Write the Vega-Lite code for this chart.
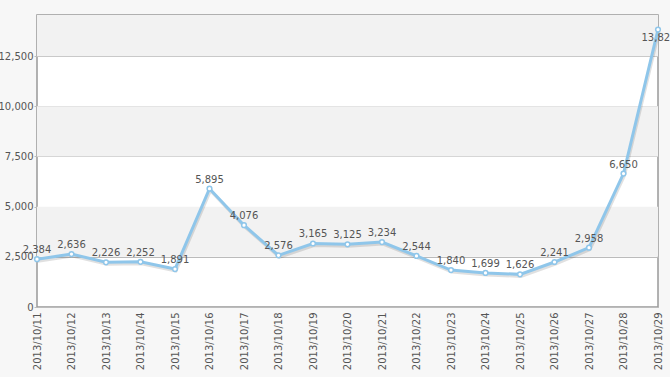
{
  "$schema": "https://vega.github.io/schema/vega-lite/v6.json",
  "width": 621,
  "height": 292,
  "autosize": {"type": "none"},
  "padding": {"left": 37, "top": 15, "right": 12, "bottom": 70},
  "background": "#f7f7f7",
  "config": {
    "view": {"stroke": "#999999", "strokeWidth": 1.5, "fill": "#ffffff"},
    "font": "DejaVu Sans"
  },
  "datasets": {
    "series": [
      {"date": "2013/10/11", "value": 2384, "label": "2,384"},
      {"date": "2013/10/12", "value": 2636, "label": "2,636"},
      {"date": "2013/10/13", "value": 2226, "label": "2,226"},
      {"date": "2013/10/14", "value": 2252, "label": "2,252"},
      {"date": "2013/10/15", "value": 1891, "label": "1,891"},
      {"date": "2013/10/16", "value": 5895, "label": "5,895"},
      {"date": "2013/10/17", "value": 4076, "label": "4,076"},
      {"date": "2013/10/18", "value": 2576, "label": "2,576"},
      {"date": "2013/10/19", "value": 3165, "label": "3,165"},
      {"date": "2013/10/20", "value": 3125, "label": "3,125"},
      {"date": "2013/10/21", "value": 3234, "label": "3,234"},
      {"date": "2013/10/22", "value": 2544, "label": "2,544"},
      {"date": "2013/10/23", "value": 1840, "label": "1,840"},
      {"date": "2013/10/24", "value": 1699, "label": "1,699"},
      {"date": "2013/10/25", "value": 1626, "label": "1,626"},
      {"date": "2013/10/26", "value": 2241, "label": "2,241"},
      {"date": "2013/10/27", "value": 2958, "label": "2,958"},
      {"date": "2013/10/28", "value": 6650, "label": "6,650"},
      {"date": "2013/10/29", "value": 13825, "label": "13,825"}
    ],
    "bands": [
      {"from": 2500, "to": 5000},
      {"from": 7500, "to": 10000},
      {"from": 12500, "to": 14550}
    ]
  },
  "layer": [
    {
      "data": {"name": "bands"},
      "mark": {"type": "rect", "color": "#f2f2f2"},
      "encoding": {
        "x": {"value": 0},
        "x2": {"value": "width"},
        "y": {
          "field": "from", "type": "quantitative",
          "scale": {"domain": [0, 14550], "nice": false},
          "axis": {"title": null, "values": [0, 2500, 5000, 7500, 10000, 12500], "format": ",d", "labelFontSize": 10, "labelColor": "#555555", "domain": false, "tickSize": 3, "tickColor": "#bbbbbb", "grid": true, "gridColor": "#bbbbbb", "gridOpacity": 1, "labelPadding": 1}
        },
        "y2": {"field": "to"}
      }
    },
    {
      "data": {"name": "series"},
      "layer": [
        {
          "mark": {"type": "line", "color": "#000000", "opacity": 0.12, "strokeWidth": 3, "xOffset": 1, "yOffset": 2},
          "encoding": {}
        },
        {
          "mark": {"type": "line", "color": "#8fc6ea", "strokeWidth": 3},
          "encoding": {}
        },
        {
          "mark": {"type": "point", "filled": true, "fill": "#ffffff", "stroke": "#8fc6ea", "strokeWidth": 1.5, "size": 22, "opacity": 1},
          "encoding": {}
        },
        {
          "transform": [{"filter": "datum.value < 13000"}],
          "mark": {"type": "text", "dy": -9, "fontSize": 10, "color": "#555555", "font": "DejaVu Sans"},
          "encoding": {"text": {"field": "label"}}
        },
        {
          "transform": [{"filter": "datum.value >= 13000"}],
          "mark": {"type": "text", "dy": 8, "dx": 1, "fontSize": 10, "color": "#555555", "font": "DejaVu Sans"},
          "encoding": {"text": {"field": "label"}}
        }
      ],
      "encoding": {
        "x": {
          "field": "date", "type": "ordinal",
          "scale": {"type": "point", "padding": 0},
          "axis": {"title": null, "labelAngle": -90, "labelFontSize": 10, "labelColor": "#555555", "domain": false, "ticks": false, "labelPadding": 5, "grid": false}
        },
        "y": {
          "field": "value", "type": "quantitative",
          "scale": {"domain": [0, 14550], "nice": false},
          "axis": {"title": null, "values": [0, 2500, 5000, 7500, 10000, 12500], "format": ",d", "labelFontSize": 10, "labelColor": "#555555", "domain": false, "tickSize": 3, "tickColor": "#bbbbbb", "grid": true, "gridColor": "#bbbbbb", "gridOpacity": 1, "labelPadding": 1}
        }
      }
    }
  ]
}
